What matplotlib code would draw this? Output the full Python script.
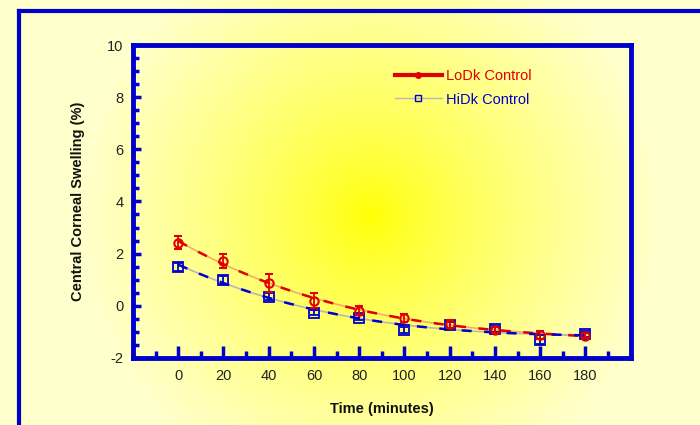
import numpy as np
import matplotlib
matplotlib.use("Agg")
import matplotlib.pyplot as plt
from matplotlib.lines import Line2D

# ---- data ----
time_min = [0, 20, 40, 60, 80, 100, 120, 140, 160, 180]
lodk_vals = [2.42, 1.72, 0.88, 0.19, -0.19, -0.46, -0.69, -0.92, -1.12, -1.15]
lodk_err = [0.25, 0.28, 0.35, 0.28, 0.18, 0.15, 0.15, 0.12, 0.15, 0.10]
hidk_vals = [1.5, 1.0, 0.35, -0.27, -0.46, -0.92, -0.73, -0.88, -1.3, -1.08]
hidk_err = [0.15, 0.15, 0.12, 0.10, 0.10, 0.12, 0.12, 0.12, 0.18, 0.12]
x_ticks = [0, 20, 40, 60, 80, 100, 120, 140, 160, 180]
y_ticks = [-2, 0, 2, 4, 6, 8, 10]

BLUE = "#0000CC"
RED = "#E00000"
plt.rcParams['font.family'] = ['Liberation Sans', 'DejaVu Sans']
plt.rcParams['axes.unicode_minus'] = False

fig = plt.figure(figsize=(7, 4.25), dpi=100)
fig.patch.set_facecolor("#FFFFC8")

# background gradient
bg = fig.add_axes([0, 0, 1, 1], zorder=0)
W, H = 700, 425
xx, yy = np.meshgrid(np.arange(W), np.arange(H))
r = np.sqrt((xx - 370) ** 2 + (yy - 215) ** 2)
t = np.clip(r / 290.0, 0, 1) ** 0.75
c0 = np.array([1.0, 1.0, 0.0])
c1 = np.array([1.0, 1.0, 0.80])
img = c0[None, None, :] * (1 - t[..., None]) + c1[None, None, :] * t[..., None]
bg.imshow(img, extent=[0, W, H, 0], aspect='auto', interpolation='bilinear')
bg.set_xlim(0, W)
bg.set_ylim(H, 0)
bg.axis('off')
bg.plot([19, 19], [H, 11], color=BLUE, lw=3, solid_capstyle='projecting')
bg.plot([19, W], [11, 11], color=BLUE, lw=3, solid_capstyle='projecting')

ax = fig.add_axes([0.19, 0.158, 0.711, 0.736], zorder=2)
ax.patch.set_alpha(0)

# smooth trend curves fitted to the data
xs = np.linspace(0, 180, 200)
lodk_fit = np.polyval(np.polyfit(time_min, lodk_vals, 3), xs)
hidk_fit = np.polyval(np.polyfit(time_min, hidk_vals, 3), xs)
ax.plot(xs, lodk_fit, color="#F0B060", lw=1.2, zorder=2)
ax.plot(xs, lodk_fit, color=RED, lw=1.8, ls=(0, (4, 5)), zorder=3)
ax.plot(xs, hidk_fit, color="#B8B8B8", lw=1.2, zorder=2)
ax.plot(xs, hidk_fit, color=BLUE, lw=1.8, ls=(0, (4, 5)), zorder=3)

ax.errorbar(time_min, lodk_vals, yerr=lodk_err, fmt='o', mfc='none', mec=RED,
            mew=1.5, ms=6, ecolor=RED, elinewidth=1.3, capsize=3, capthick=1.3, zorder=5)
ax.errorbar(time_min, hidk_vals, yerr=hidk_err, fmt='s', mfc='none', mec=BLUE,
            mew=1.3, ms=7, ecolor=BLUE, elinewidth=1.3, capsize=3, capthick=1.3, zorder=4)

ax.set_xlim(-20, 200)
ax.set_ylim(-2, 10)
ax.set_xticks(x_ticks)
ax.set_xticks(np.arange(-10, 200, 10), minor=True)
ax.set_yticks(y_ticks)
ax.set_yticks(np.arange(-2, 10.01, 0.5), minor=True)

for s in ax.spines.values():
    s.set_color(BLUE)
    s.set_linewidth(3.5)
ax.tick_params(axis='both', which='both', direction='in', color=BLUE,
               top=False, right=False, labelcolor="#222222")
ax.tick_params(axis='x', which='major', length=9, width=2.5, labelsize=10.5, pad=8)
ax.tick_params(axis='x', which='minor', length=5, width=2.5)
ax.tick_params(axis='y', which='major', length=6, width=2.5, labelsize=10.5, pad=7)
ax.tick_params(axis='y', which='minor', length=4, width=2.5)

ax.set_xlabel("Time (minutes)", fontsize=10.5, fontweight='bold',
              labelpad=14, color="#111111")
ax.set_ylabel("Central Corneal Swelling (%)", fontsize=10.5, fontweight='bold',
              labelpad=16, color="#111111")

handles = [
    Line2D([], [], color=RED, lw=3, marker='o', ms=4, mfc=RED, mec=RED),
    Line2D([], [], color="#B8B8B8", lw=1, marker='s', ms=5, mfc='none', mec=BLUE),
]
leg = ax.legend(handles, ["LoDk Control", "HiDk Control"], loc='upper left',
                bbox_to_anchor=(0.5, 0.965), frameon=False, fontsize=10.5,
                handlelength=3.2, handletextpad=0.3, labelspacing=0.65)
for txt, col in zip(leg.get_texts(), [RED, BLUE]):
    txt.set_color(col)

fig.savefig("out.png", dpi=100)
